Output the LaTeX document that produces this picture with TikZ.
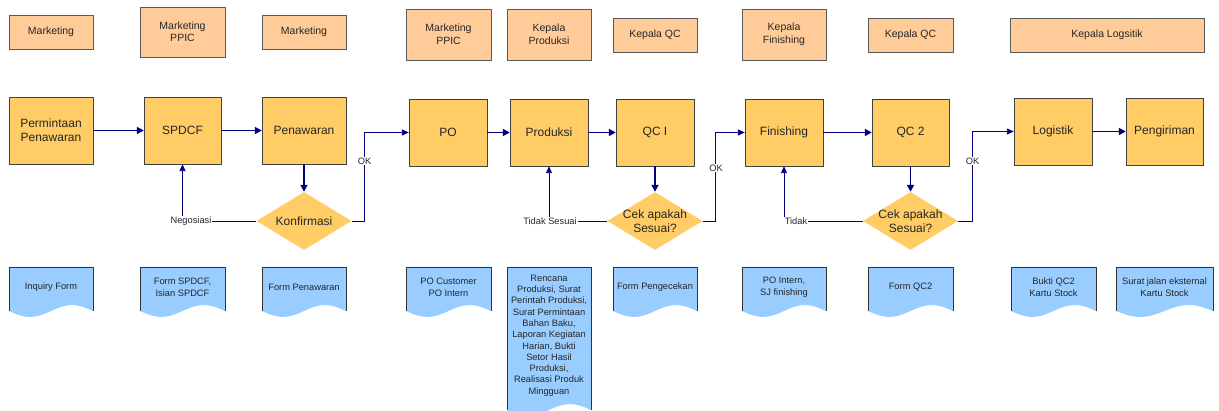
\documentclass[tikz,border=0pt]{standalone}
\usepackage{fontspec}
\setmainfont{Liberation Sans}
\usetikzlibrary{shapes.geometric,arrows.meta}
\definecolor{rolefill}{HTML}{FFCC99}
\definecolor{procfill}{HTML}{FFCC66}
\definecolor{docfill}{HTML}{99CCFF}
\definecolor{flowblue}{HTML}{000080}
\newcommand{\docshape}[4]{%
% left, right, top, base of the wave
  \pgfmathsetmacro{\docL}{#1}
  \pgfmathsetmacro{\docR}{#2}
  \pgfmathsetmacro{\docT}{#3}
  \pgfmathsetmacro{\docB}{#4}
  \pgfmathsetmacro{\docQ}{(\docR-\docL)/4}
  \fill[docfill] (\docL,\docB) -- (\docL,\docT) -- (\docR,\docT) -- (\docR,\docB)
       sin (\docR-\docQ,\docB-6) cos (\docR-2*\docQ,\docB)
       sin (\docL+\docQ,\docB+6) cos (\docL,\docB) -- cycle;
  \draw[docedge] (\docL,\docB) -- (\docL,\docT) -- (\docR,\docT) -- (\docR,\docB);
}
\tikzset{
  role/.style={draw=black!65, fill=rolefill, align=center, inner sep=0pt,
    text=black!85, font=\fontsize{10.5}{12.5}\selectfont},
  proc/.style={draw=black!75, fill=procfill, align=center, inner sep=0pt,
    minimum height=67, text=black!85, font=\fontsize{12}{14}\selectfont},
  dec/.style={diamond, fill=procfill, aspect=1.64, inner sep=-4pt, align=center,
    minimum width=95, minimum height=58, text=black!85, font=\fontsize{12}{14}\selectfont},
  docedge/.style={draw=black!80, line width=0.8pt},
  doctext/.style={align=center, inner sep=0pt, text=black!85, font=\fontsize{9.3}{12}\selectfont},
  flow/.style={draw=flowblue, line width=1.6pt, -{Triangle[length=7pt,width=7pt]}},
  back/.style={draw=flowblue, line width=0.9pt, -{Triangle[length=7pt,width=6pt]}},
  lbl/.style={fill=white, inner sep=1pt, text=black!85, font=\fontsize{9.3}{11}\selectfont}
}
\begin{document}
\begin{tikzpicture}[x=1pt,y=-1pt]
  \useasboundingbox (0,0) rectangle (1219,411);
  % who is in charge
  \node[role, minimum width=84, minimum height=34] (rmkt) at (51,32) {Marketing};
  \node[role, minimum width=85, minimum height=50] (rppic) at (182.5,32) {Marketing\\PPIC};
  \node[role, minimum width=84, minimum height=34] (rmktb) at (304,32) {Marketing};
  \node[role, minimum width=85, minimum height=51] (rppicb) at (448.5,34.5) {Marketing\\PPIC};
  \node[role, minimum width=84, minimum height=51] (rprod) at (549,34.5) {Kepala\\Produksi};
  \node[role, minimum width=84, minimum height=34] (rqc) at (655,35) {Kepala QC};
  \node[role, minimum width=84, minimum height=51] (rfin) at (784,34.5) {Kepala\\Finishing};
  \node[role, minimum width=85, minimum height=34] (rqcb) at (910.5,35) {Kepala QC};
  \node[role, minimum width=194, minimum height=34] (rlog) at (1107,35) {Kepala Logsitik};
  % process steps
  \node[proc, minimum width=84] (perm) at (51,130.5) {Permintaan\\Penawaran};
  \node[proc, minimum width=77] (spdcf) at (182.5,130.5) {SPDCF};
  \node[proc, minimum width=84] (pena) at (304,130.5) {Penawaran};
  \node[proc, minimum width=78] (po) at (448,132.5) {PO};
  \node[proc, minimum width=78] (prod) at (549,132.5) {Produksi};
  \node[proc, minimum width=78] (qca) at (655,132.5) {QC I};
  \node[proc, minimum width=78] (fin) at (784,132.5) {Finishing};
  \node[proc, minimum width=77] (qcb) at (910.5,132.5) {QC 2};
  \node[proc, minimum width=78] (logi) at (1053,131.5) {Logistik};
  \node[proc, minimum width=77] (kirim) at (1164.5,131.5) {Pengiriman};
  % decisions
  \node[dec] (konf) at (304,221) {Konfirmasi};
  \node[dec] (ceka) at (655,221) {Cek apakah\\Sesuai?};
  \node[dec] (cekb) at (910.5,221) {Cek apakah\\Sesuai?};
  % main flow
  \draw[flow] (perm) -- (spdcf);
  \draw[flow] (spdcf) -- (pena);
  \draw[flow] (pena) -- (konf);
  \draw[flow] (po) -- (prod);
  \draw[flow] (prod) -- (qca);
  \draw[flow] (qca) -- (ceka);
  \draw[flow] (fin) -- (qcb);
  \draw[flow] (qcb) -- (cekb);
  \draw[flow] (logi) -- (kirim);
  % answers of the checks
  \draw[back] (konf.west) -| (spdcf.south);
  \draw[back] (konf.east) -- ++(13,0) |- (po.west);
  \draw[back] (ceka.west) -| (prod.south);
  \draw[back] (ceka.east) -- ++(13,0) |- (fin.west);
  \draw[back] (cekb.west) -| (fin.south);
  \draw[back] (cekb.east) -- ++(14,0) |- (logi.west);
  \node[lbl] (lneg) at (191,221) {Negosiasi};
  \node[lbl] (lok) at (364.5,161) {OK};
  \node[lbl] (ltdks) at (550,221) {Tidak Sesuai};
  \node[lbl] (loka) at (716,168) {OK};
  \node[lbl] (ltdk) at (796,221) {Tidak};
  \node[lbl] (lokb) at (972.5,161) {OK};
  % documents
  \foreach \l/\r/\t [count=\i] in {9/93/{Inquiry Form}, 140/225/{Form SPDCF,\\ Isian SPDCF},
      262/346/{Form Penawaran}, 406/491/{PO Customer\\PO Intern}, 613/697/{Form Pengecekan},
      742/826/{PO Intern,\\SJ finishing}, 868/953/{Form QC2}, 1011/1096/{Bukti QC2\\Kartu Stock},
      1116/1213/{Surat jalan eksternal\\Kartu Stock}} {
    \docshape{\l}{\r}{267}{311}
    \node[doctext] (doc\i) at ({(\l+\r)/2},287) {\t};
  }
  \docshape{507}{591}{267}{410}
  \node[doctext, font=\fontsize{9.3}{11.3}\selectfont] (docrenc) at (549,335.5)
    {Rencana\\Produksi, Surat\\Perintah Produksi,\\Surat Permintaan\\Bahan Baku,\\Laporan Kegiatan\\Harian, Bukti\\Setor Hasil\\Produksi,\\Realisasi Produk\\Mingguan};
\end{tikzpicture}
\end{document}
